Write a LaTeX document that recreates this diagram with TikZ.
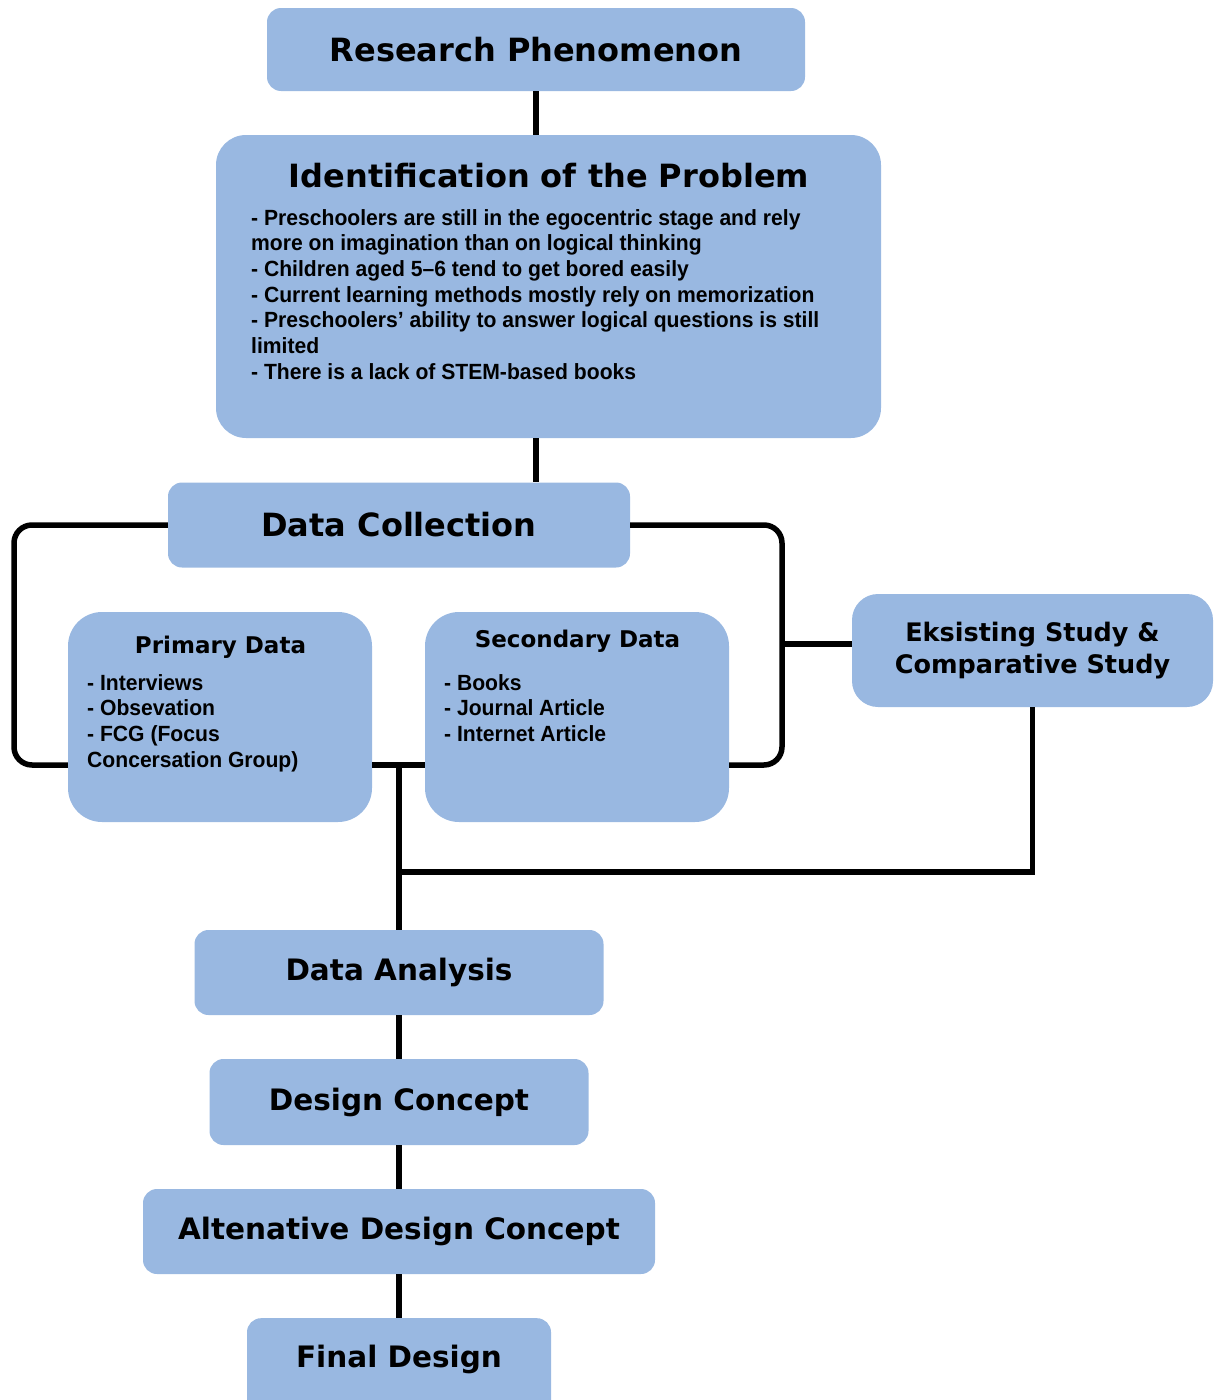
\documentclass[tikz,border=0pt]{standalone}
\usepackage{fontspec}
\newfontfamily\headfont{DejaVu Sans}
\newfontfamily\bodyfont[FakeStretch=0.96]{Liberation Sans}
\usetikzlibrary{positioning}
\definecolor{stageblue}{RGB}{153,184,225}
\tikzset{
  stage/.style={fill=stageblue, rounded corners=14pt, inner sep=0pt, align=center,
    font=\headfont\bfseries\fontsize{32}{38}\selectfont},
  lower/.style={stage, font=\headfont\bfseries\fontsize{29.5}{35}\selectfont},
  head/.style={inner sep=0pt, font=\headfont\bfseries\fontsize{23}{28}\selectfont},
  items/.style={inner sep=0pt, anchor=north west, align=left,
    font=\bodyfont\bfseries\fontsize{22}{25.7}\selectfont},
  link/.style={line width=5.5pt, black}
}

\begin{document}
\begin{tikzpicture}[x=1pt,y=-1pt]
    \useasboundingbox (0,0) rectangle (1214,1400);

    % top of the chain
    \node[stage, minimum width=538pt, minimum height=83pt] (phen) at (536,49.5) {Research Phenomenon};
    \node[stage, minimum width=665pt, minimum height=303pt, rounded corners=30pt] (problem) at (548.5,286.5) {};
    \node[inner sep=0pt, font=\headfont\bfseries\fontsize{32}{38}\selectfont] (problemtitle) at (549,176) {Identification of the Problem};
    \node[items] (problemlist) at (251,209) {- Preschoolers are still in the egocentric stage and rely\\
        more on imagination than on logical thinking\\
        - Children aged 5–6 tend to get bored easily\\
        - Current learning methods mostly rely on memorization\\
        - Preschoolers’ ability to answer logical questions is still\\
        limited\\
        - There is a lack of STEM-based books};

    % data collection block
    \node[stage, minimum width=462pt, minimum height=85pt] (collect) at (399,525) {Data Collection};
    \node[stage, minimum width=304pt, minimum height=210pt, rounded corners=34pt] (primary) at (220,717) {};
    \node[head] (primarytitle) at (220.5,647) {Primary Data};
    \node[items] (primarylist) at (87,674) {- Interviews\\- Obsevation\\- FCG (Focus\\Concersation Group)};
    \node[stage, minimum width=304pt, minimum height=210pt, rounded corners=34pt] (secondary) at (577,717) {};
    \node[head] (secondarytitle) at (577.5,641) {Secondary Data};
    \node[items] (secondarylist) at (444,674) {- Books\\- Journal Article\\- Internet Article};
    \node[stage, minimum width=361pt, minimum height=113pt, rounded corners=26pt,
        font=\headfont\bfseries\fontsize{25.5}{32}\selectfont] (study) at (1032.5,650.5) {Eksisting Study \&\\Comparative Study};

    % lower chain
    \node[lower, minimum width=409pt, minimum height=85pt] (analysis) at (399,972.5) {Data Analysis};
    \node[lower, minimum width=379pt, minimum height=86pt] (concept) at (399,1102) {Design Concept};
    \node[lower, minimum width=512pt, minimum height=85pt] (altconcept) at (399,1231.5) {Altenative Design Concept};
    \node[stage, anchor=north, minimum width=304pt, minimum height=110pt] (final) at (399,1318) {};
    \node[inner sep=0pt, font=\headfont\bfseries\fontsize{29.5}{35}\selectfont] (finaltitle) at (399,1359) {Final Design};

    % junctions
    \coordinate (loopleft) at (14,765);
    \coordinate (loopright) at (782,765);
    \coordinate (split) at (399,765);
    \coordinate (merge) at (399,872);

    % connectors
    \draw[link] (phen.south) -- (phen.south |- problem.north);
    \draw[link] (phen.south |- problem.south) -- (phen.south |- collect.north);
    \draw[link, rounded corners=18pt] (collect.west) -| (loopleft) -- (loopleft -| primary.west);
    \draw[link, rounded corners=18pt] (collect.east) -| (loopright) -- (loopright -| secondary.east);
    \draw[link] (primary.east |- split) -- (secondary.west |- split);
    \draw[link] (loopright |- 0,644) -- (study.west |- 0,644);
    \draw[link] (study.south) |- (merge);
    \draw[link] (split) -- (analysis.north);
    \draw[link] (analysis.south) -- (concept.north);
    \draw[link] (concept.south) -- (altconcept.north);
    \draw[link] (altconcept.south) -- (final.north);
\end{tikzpicture}
\end{document}
